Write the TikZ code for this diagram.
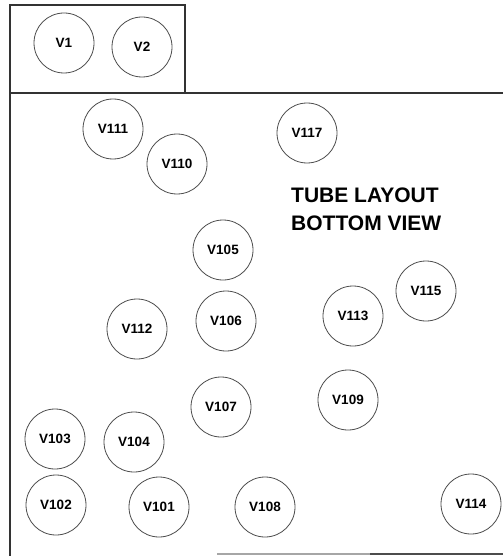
\documentclass[tikz,border=0pt]{standalone}
\usepackage{fontspec}
\setmainfont{Liberation Sans}
\begin{document}
\begin{tikzpicture}[x=1pt, y=-1pt,
        tube/.style={draw=black!70, circle, minimum size=60pt, inner sep=0pt, line width=0.8pt, font=\bfseries\fontsize{13.5}{15}\selectfont},
        chassis/.style={draw=black!80, line width=1.4pt}]
        \useasboundingbox (0,0) rectangle (503,556);

        % chassis outline
        \draw[chassis] (10,556) -- (10,5) -- (185,5) -- (185,93);
        \draw[chassis] (10,93) -- (503,93);
        \draw[black!35, line width=1.2pt] (217,554) -- (370,554);
        \draw[black!70, line width=1.2pt] (370,554) -- (503,554);

        \node [tube] (V1) at (64,43) {V1};
        \node [tube] (V2) at (142,47) {V2};

        \node [tube] (V111) at (113,129) {V111};
        \node [tube] (V110) at (177,164) {V110};
        \node [tube] (V117) at (307,133) {V117};
        \node [tube] (V105) at (223,250) {V105};
        \node [tube] (V106) at (226,321) {V106};
        \node [tube] (V112) at (137,329) {V112};
        \node [tube] (V113) at (353,316) {V113};
        \node [tube] (V115) at (426,291) {V115};
        \node [tube] (V107) at (221,407) {V107};
        \node [tube] (V109) at (348,400) {V109};
        \node [tube] (V103) at (55,439) {V103};
        \node [tube] (V104) at (134,442) {V104};
        \node [tube] (V102) at (56,505) {V102};
        \node [tube] (V101) at (159,507) {V101};
        \node [tube] (V108) at (265,507) {V108};
        \node [tube] (V114) at (471,504) {V114};

        \node [align=left, anchor=north west, inner sep=0pt, font=\bfseries\fontsize{21}{28}\selectfont] (title) at (291,188) {TUBE LAYOUT\\BOTTOM VIEW};
    \end{tikzpicture}
\end{document}
